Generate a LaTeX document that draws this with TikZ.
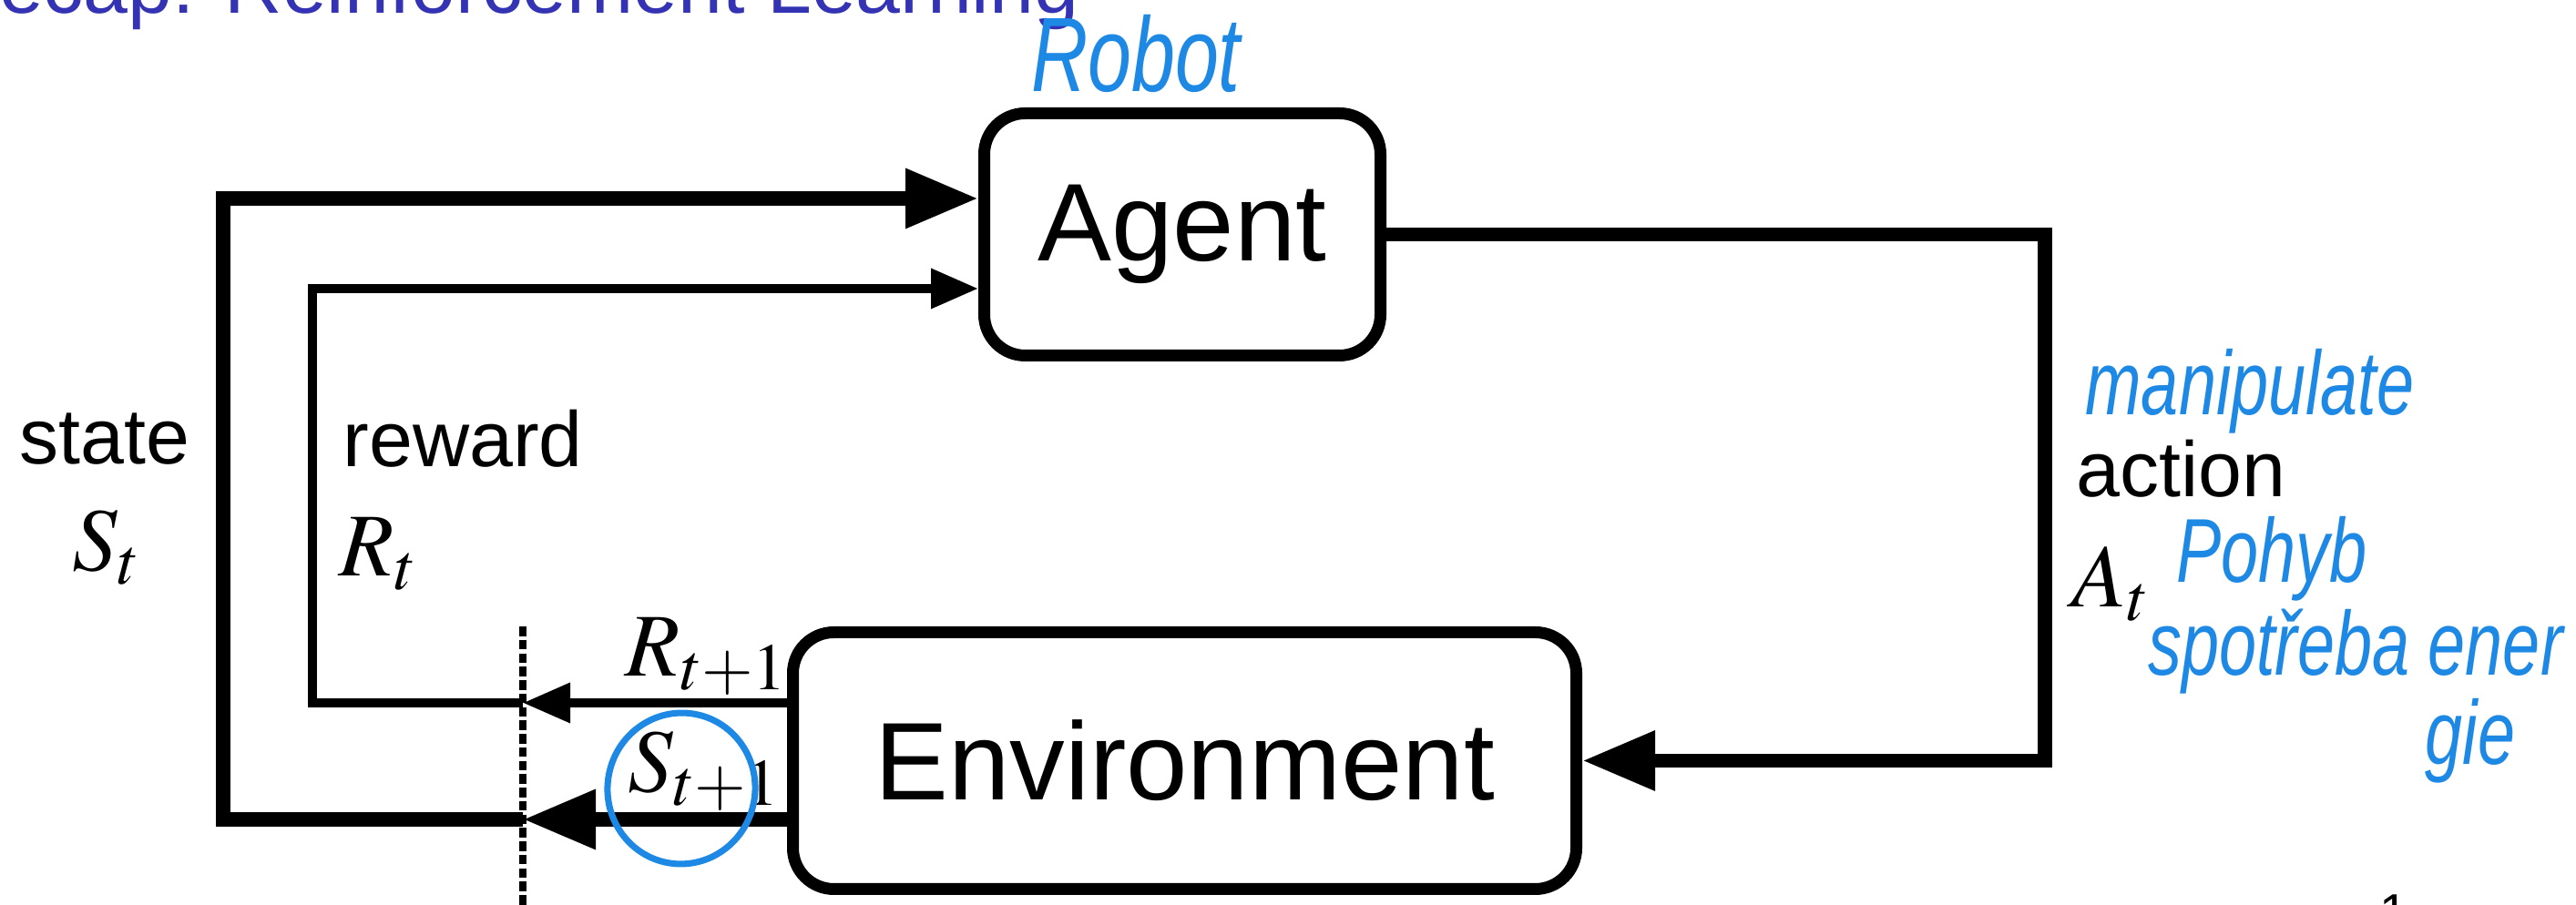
\documentclass[tikz,border=0pt]{standalone}
\usepackage{graphicx}
\usepackage{mathptmx}
\usepackage[no-math]{fontspec}
\setmainfont{Liberation Sans}
\usetikzlibrary{arrows.meta, positioning, calc}
\definecolor{handblue}{RGB}{30,136,229}
\definecolor{titleblue}{RGB}{51,51,179}
\newcommand{\tallhand}[1]{\scalebox{1}[1.35]{#1}}
\tikzset{
    block/.style={draw=black, line width=3.7pt, rounded corners=4.5mm, font=\fontsize{34.5}{40}\selectfont, align=center},
    bigsig/.style={line width=4.5pt, -{Triangle[length=8mm, width=6.2mm]}},
    smallsig/.style={line width=2.8pt, -{Triangle[length=5.2mm, width=4.2mm]}},
    cutline/.style={line width=2pt, dash pattern=on 3pt off 1.2pt},
    lbl/.style={inner sep=0pt, font=\fontsize{24.5}{29}\selectfont},
    sym/.style={inner sep=0pt, font=\fontsize{28}{32}\selectfont},
    hand/.style={inner sep=0pt, text=handblue, font=\fontsize{21}{25}\selectfont\itshape},
    handline/.style={draw=handblue, line width=2pt}
}

\begin{document}
\begin{tikzpicture}
    \useasboundingbox (0,0) rectangle (28.28,9.94);

    % title and page number (cut by the page)
    \node[anchor=base west, inner sep=0pt, text=titleblue, font=\fontsize{25}{30}\selectfont] (title) at (-0.65,9.79) {Recap: Reinforcement Learning};
    \node[anchor=north, inner sep=0pt, font=\fontsize{16}{19}\selectfont] (pagenum) at (26.28,0.12) {1};

    % blocks
    \node[block, minimum width=4.35cm, minimum height=2.66cm] (agent) at (12.98,7.365) {Agent};
    \node[block, minimum width=8.60cm, minimum height=2.82cm] (env) at (13.005,1.585) {Environment};

    % turning points
    \coordinate (statex) at (2.45,0);
    \coordinate (rewardx) at (3.43,0);
    \coordinate (actionx) at (22.45,0);
    \coordinate (cuttop) at (5.74,3.06);
    \coordinate (cutbot) at (5.74,0);
    \coordinate (snext) at ([yshift=-6.45mm]env.west);
    \coordinate (rnext) at ([yshift=6.35mm]env.west);
    \coordinate (stin) at ([yshift=3.95mm]agent.west);
    \coordinate (rwin) at ([yshift=-5.95mm]agent.west);

    % signals
    \draw[bigsig] (agent.east) -| (actionx |- env.east) -- (env.east);
    \draw[bigsig] (snext) -- (cutbot |- snext);
    \draw[bigsig] (cutbot |- snext) -| (statex |- stin) -- (stin);
    \draw[smallsig] (rnext) -- (cutbot |- rnext);
    \draw[smallsig] (cutbot |- rnext) -| (rewardx |- rwin) -- (rwin);
    \draw[cutline] (cuttop) -- (cutbot);

    % labels
    \node[lbl, anchor=base] (statelbl) at (1.15,4.84) {state};
    \node[sym, anchor=base] (statesym) at (1.17,3.67) {$S_t$};
    \node[lbl, anchor=base west] (rewardlbl) at (3.76,4.81) {reward};
    \node[sym, anchor=base west] (rewardsym) at (3.72,3.61) {$R_t$};
    \node[lbl, anchor=base west] (actionlbl) at (22.79,4.48) {action};
    \node[sym, anchor=base west] (actionsym) at (22.74,3.27) {$A_t$};
    \node[sym, anchor=base west] (rnextlbl) at (6.86,2.51) {$R_{t+1}$};
    \node[sym, anchor=base west] (snextlbl) at (6.89,1.24) {$S_{t+1}$};

    % handwritten notes
    \node[hand, font=\fontsize{24.5}{30}\selectfont\itshape] (robotnote) at (12.47,9.35) {\tallhand{Robot}};
    \node[hand] (manipnote) at (24.70,5.64) {\tallhand{manipulate}};
    \node[hand] (pohybnote) at (24.94,3.80) {\tallhand{Pohyb}};
    \node[hand] (energynote) at (25.86,2.78) {\tallhand{spotřeba ener}};
    \node[hand] (gienote) at (27.12,1.80) {\tallhand{gie}};
    \draw[handline, rotate around={-10:(7.48,1.28)}] (7.48,1.28) ellipse [x radius=0.81, y radius=0.83];
\end{tikzpicture}
\end{document}
